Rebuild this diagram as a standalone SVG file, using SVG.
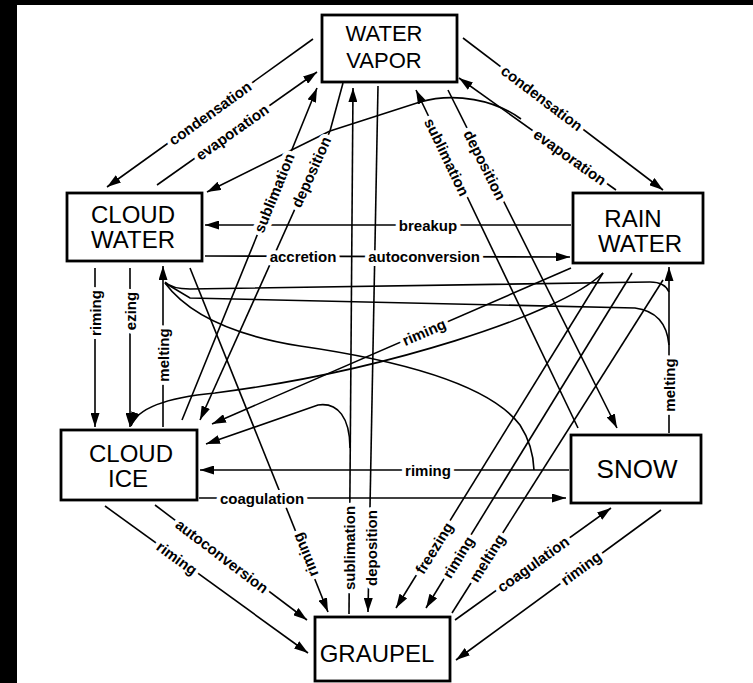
<svg xmlns="http://www.w3.org/2000/svg" width="753" height="683" viewBox="0 0 753 683">
<defs>
<style>
.ln{fill:none;stroke:#000;stroke-width:1.6}
.box{fill:#fff;stroke:#000;stroke-width:2.8}
.nt{font-family:"Liberation Sans",Arial,sans-serif;font-size:24px;text-anchor:middle;fill:#000}
.lb{font-family:"Liberation Sans",Arial,sans-serif;font-size:15px;font-weight:bold;text-anchor:middle;dominant-baseline:central;fill:#000;stroke:#fff;stroke-width:8;stroke-linejoin:round;paint-order:stroke}
</style>
<marker id="ah" viewBox="0 0 14 9" refX="14" refY="4.5" markerWidth="14" markerHeight="9" markerUnits="userSpaceOnUse" orient="auto"><path d="M0,0 L14,4.5 L0,9 z" fill="#000"/></marker>
</defs>
<rect x="0" y="0" width="753" height="683" fill="#fff"/>
<rect x="0" y="0" width="17" height="683" fill="#000"/>
<rect x="0" y="0" width="753" height="5" fill="#000"/>
<g id="connectors">
<path class="ln" d="M313,39 L107,187" marker-end="url(#ah)"/>
<path class="ln" d="M157,185 L317,72" marker-end="url(#ah)"/>
<path class="ln" d="M463,38 L663,190" marker-end="url(#ah)"/>
<path class="ln" d="M616,190 L459,78" marker-end="url(#ah)"/>
<path class="ln" d="M521,119 C495,100 455,92 420,102 L330,131"/>
<path class="ln" d="M343,83 L330,131"/>
<path class="ln" d="M330,131 L207,192" marker-end="url(#ah)"/>
<path class="ln" d="M330,131 L200,420" marker-end="url(#ah)"/>
<path class="ln" d="M182,420 L317,88" marker-end="url(#ah)"/>
<path class="ln" d="M349,614 L353,88" marker-end="url(#ah)"/>
<path class="ln" d="M378,86 L368,612" marker-end="url(#ah)"/>
<path class="ln" d="M350,448 C350,418 338,402 318,405 L206,444" marker-end="url(#ah)"/>
<path class="ln" d="M571,225 L205,225" marker-end="url(#ah)"/>
<path class="ln" d="M205,256 L570,257" marker-end="url(#ah)"/>
<path class="ln" d="M95,268 L95,427" marker-end="url(#ah)"/>
<path class="ln" d="M130,268 L130,427" marker-end="url(#ah)"/>
<path class="ln" d="M163,427 L163,266" marker-end="url(#ah)"/>
<path class="ln" d="M669,433 L669,267" marker-end="url(#ah)"/>
<path class="ln" d="M669,292 Q665,282 650,282 L190,289 Q172,289 165,282"/>
<path class="ln" d="M669,345 Q666,312 635,308 L190,298 L165,283"/>
<path class="ln" d="M165,283 Q200,330 300,346 Q480,372 520,425 Q533,445 534,470"/>
<path class="ln" d="M571,268 L212,424" marker-end="url(#ah)"/>
<path class="ln" d="M603,273 C560,315 380,372 215,393 Q140,400 131,426" marker-end="url(#ah)"/>
<path class="ln" d="M603,273 L396,608" marker-end="url(#ah)"/>
<path class="ln" d="M632,273 L426,608" marker-end="url(#ah)"/>
<path class="ln" d="M663,280 L452,613"/>
<path class="ln" d="M578,428 L416,90" marker-end="url(#ah)"/>
<path class="ln" d="M448,90 L617,428" marker-end="url(#ah)"/>
<path class="ln" d="M190,268 L328,612" marker-end="url(#ah)"/>
<path class="ln" d="M155,505 L307,620" marker-end="url(#ah)"/>
<path class="ln" d="M105,506 L308,653" marker-end="url(#ah)"/>
<path class="ln" d="M199,498 L566,498" marker-end="url(#ah)"/>
<path class="ln" d="M569,470 L200,470" marker-end="url(#ah)"/>
<path class="ln" d="M455,620 L611,508" marker-end="url(#ah)"/>
<path class="ln" d="M661,510 L456,660" marker-end="url(#ah)"/>
<text class="lb" transform="translate(210,113) rotate(-35.7)">condensation</text>
<text class="lb" transform="translate(232,132) rotate(-35.2)">evaporation</text>
<text class="lb" transform="translate(542,98) rotate(37.2)">condensation</text>
<text class="lb" transform="translate(570,157) rotate(35.5)">evaporation</text>
<text class="lb" transform="translate(311,172) rotate(-65.8)">deposition</text>
<text class="lb" transform="translate(274,193) rotate(-67.9)">sublimation</text>
<text class="lb" transform="translate(349,548) rotate(-90)">sublimation</text>
<text class="lb" transform="translate(371,548) rotate(-90)">deposition</text>
<text class="lb" transform="translate(428,225)">breakup</text>
<text class="lb" transform="translate(303,256)">accretion</text>
<text class="lb" transform="translate(424,256)">autoconversion</text>
<text class="lb" transform="translate(95,313) rotate(-90)">riming</text>
<text class="lb" transform="translate(130,311) rotate(-90)">ezing</text>
<text class="lb" transform="translate(163,355) rotate(-90)">melting</text>
<text class="lb" transform="translate(669,385) rotate(-90)">melting</text>
<text class="lb" transform="translate(424,332) rotate(-23.5)">riming</text>
<text class="lb" transform="translate(434,548) rotate(-58.3)">freezing</text>
<text class="lb" transform="translate(458,557) rotate(-58.4)">riming</text>
<text class="lb" transform="translate(487,558) rotate(-57.7)">melting</text>
<text class="lb" transform="translate(447,157) rotate(64.4)">sublimation</text>
<text class="lb" transform="translate(485,165) rotate(63.4)">deposition</text>
<text class="lb" transform="translate(305,555) rotate(248)">riming</text>
<text class="lb" transform="translate(222,556) rotate(37.1)">autoconversion</text>
<text class="lb" transform="translate(177,558) rotate(35.9)">riming</text>
<text class="lb" transform="translate(262,498)">coagulation</text>
<text class="lb" transform="translate(428,470)">riming</text>
<text class="lb" transform="translate(533,564) rotate(-35.7)">coagulation</text>
<text class="lb" transform="translate(581,568) rotate(-36.2)">riming</text>
</g>
<g id="water-vapor">
<rect class="box" x="322" y="15" width="135" height="67"/>
<text class="nt" x="384" y="41" style="font-size:22px">WATER</text>
<text class="nt" x="384" y="68" style="font-size:22px">VAPOR</text>
</g>
<g id="cloud-water">
<rect class="box" x="67" y="193" width="135" height="68"/>
<text class="nt" x="133" y="223">CLOUD</text>
<text class="nt" x="133" y="248">WATER</text>
</g>
<g id="rain-water">
<rect class="box" x="573" y="193" width="130" height="70"/>
<text class="nt" x="633" y="227">RAIN</text>
<text class="nt" x="640" y="252">WATER</text>
</g>
<g id="cloud-ice">
<rect class="box" x="61" y="430" width="136" height="70"/>
<text class="nt" x="131" y="462">CLOUD</text>
<text class="nt" x="128" y="487">ICE</text>
</g>
<g id="snow">
<rect class="box" x="571" y="435" width="130" height="68"/>
<text class="nt" x="637" y="478" style="font-size:26px">SNOW</text>
</g>
<g id="graupel">
<rect class="box" x="315" y="617" width="135" height="64"/>
<text class="nt" x="377" y="662">GRAUPEL</text>
</g>
</svg>
